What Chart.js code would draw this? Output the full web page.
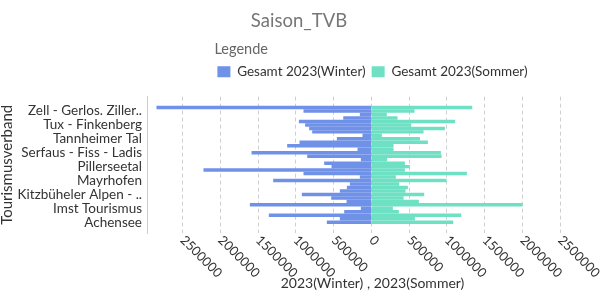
<!DOCTYPE html>
<html>
<head>
<meta charset="utf-8">
<script src="https://cdn.jsdelivr.net/npm/chart.js@4/dist/chart.umd.min.js"></script>
<style>
  html, body { margin: 0; padding: 0; background: #fff; }
  #wrap { width: 600px; height: 300px; }
</style>
</head>
<body>
<div id="wrap"><canvas id="saisonChart"></canvas></div>
<script>
// Tourismusverbände, top to bottom as in the chart
const categories = [
  "Ötztal Tourismus", "Zell - Gerlos. Ziller..", "Wipptal", "Wildschönau", "Wilder Kaiser",
  "Tux - Finkenberg", "Tiroler Zugspitz Arena", "Tiroler Oberland", "Tirol West", "Tannheimer Tal",
  "Stubai Tirol", "St. Anton am Arlberg", "Silberregion Karwendel", "Serfaus - Fiss - Ladis", "Seefeld",
  "Region Hall-Wattens", "Pitztal", "Pillerseetal", "Paznaun - Ischgl", "Osttirol",
  "Naturparkregion Reutte", "Mayrhofen", "Lechtal", "Kufsteinerland", "Kitzbüheler Alpen - St. Johann",
  "Kitzbüheler Alpen - ..", "Kitzbüheler Alpen - Brixental", "Kaiserwinkl", "Innsbruck", "Imst Tourismus",
  "Ferienregion Hohe Salve", "Erste Ferienregion im Zillertal", "Alpbachtal", "Achensee"
];
const winter2023 = [
  2840000, 894000, 148000, 368000, 955000, 872000, 819000, 779000, 113000, 452000,
  947000, 1110000, 179000, 1582000, 845000, 135000, 620000, 523000, 2218000, 894000,
  148000, 1295000, 280000, 320000, 413000, 916000, 527000, 324000, 1604000, 135000,
  355000, 1353000, 413000, 585000
];
const summer2023 = [
  1331000, 567000, 200000, 342000, 1105000, 523000, 969000, 686000, 135000, 638000,
  744000, 289000, 289000, 916000, 925000, 205000, 439000, 505000, 439000, 1260000,
  320000, 990000, 364000, 479000, 448000, 695000, 422000, 624000, 1997000, 280000,
  360000, 1185000, 572000, 1079000
];
const xTicks = [-2500000, -2000000, -1500000, -1000000, -500000, 0, 500000, 1000000, 1500000, 2000000, 2500000];
const yLabelIdx = [1, 5, 9, 13, 17, 21, 25, 29, 33];

Chart.defaults.font.family = 'Lato';

// x tick labels turn clockwise, starting at the tick
const rotatedTicks = {
  id: 'rotatedTicks',
  afterDraw(chart) {
    const sx = chart.scales.x, ctx = chart.ctx;
    ctx.save();
    ctx.font = '13px Lato';
    ctx.fillStyle = '#333';
    ctx.textAlign = 'left';
    ctx.textBaseline = 'middle';
    xTicks.forEach(v => {
      ctx.save();
      ctx.translate(sx.getPixelForValue(v), chart.chartArea.bottom + 5);
      ctx.rotate(Math.PI / 4);
      ctx.fillText(String(Math.abs(v)), 0, 0);
      ctx.restore();
    });
    ctx.restore();
  }
};

// a bit more room below the legend
const legendGap = {
  id: 'legendGap',
  beforeLayout(chart) {
    const lg = chart.legend;
    if (!lg || lg._gapPatched) return;
    const fit = lg.fit;
    lg.fit = function () { fit.call(this); this.height += 8; };
    lg._gapPatched = true;
  }
};

const ctx = document.getElementById('saisonChart').getContext('2d');
const myChart = new Chart(ctx, {
  type: 'bar',
  data: {
    datasets: [
      {
        label: 'Gesamt 2023(Winter)',
        data: winter2023.map((v, i) => ({ x: -v, y: i })),
        backgroundColor: '#6f91e7',
        borderWidth: 0,
        barThickness: 2.8
      },
      {
        label: 'Gesamt 2023(Sommer)',
        data: summer2023.map((v, i) => ({ x: v, y: i })),
        backgroundColor: '#6ee0c3',
        borderWidth: 0,
        barThickness: 2.8
      }
    ]
  },
  options: {
    indexAxis: 'y',
    responsive: true,
    maintainAspectRatio: false,
    animation: false,
    layout: { padding: { left: 0, right: 2, top: 0, bottom: 0 } },
    plugins: {
      title: {
        display: true,
        text: 'Saison_TVB',
        color: '#777',
        font: { size: 18.5, weight: 'normal' },
        padding: { top: 10, bottom: 6.5 }
      },
      legend: {
        fullSize: false,
        title: {
          display: true,
          text: 'Legende',
          color: '#666',
          position: 'start',
          font: { size: 14.5 },
          padding: { top: 3, bottom: 0 }
        },
        labels: {
          boxWidth: 13,
          boxHeight: 11,
          padding: 6,
          color: '#333',
          font: { size: 13.5 }
        }
      },
      tooltip: { enabled: false }
    },
    scales: {
      x: {
        stacked: true,
        min: -2970000,
        max: 3000000,
        afterBuildTicks: s => { s.ticks = xTicks.map(v => ({ value: v })); },
        afterFit: s => { s.height = 67; },
        ticks: { display: false },
        grid: { color: '#cfcfcf', drawTicks: false },
        border: { display: false, dash: [4, 3] },
        title: {
          display: true,
          text: '2023(Winter) , 2023(Sommer)',
          color: '#333',
          font: { size: 14 },
          padding: { top: 0, bottom: 8.6 }
        }
      },
      y: {
        type: 'linear',
        stacked: true,
        reverse: true,
        offset: false,
        min: -3.15,
        max: 36.1,
        afterBuildTicks: s => { s.ticks = yLabelIdx.map(v => ({ value: v })); },
        afterFit: s => { s.width = 147; },
        ticks: {
          autoSkip: false,
          color: '#333',
          font: { size: 13.5 },
          padding: 5,
          callback: v => categories[v]
        },
        grid: { offset: false, drawOnChartArea: false, drawTicks: false },
        border: { display: true, color: '#cccccc' },
        title: {
          display: true,
          text: 'Tourismusverband',
          color: '#333',
          font: { size: 15 },
          padding: { top: -1.5, bottom: 0 }
        }
      }
    }
  },
  plugins: [rotatedTicks, legendGap]
});
</script>
</body>
</html>
